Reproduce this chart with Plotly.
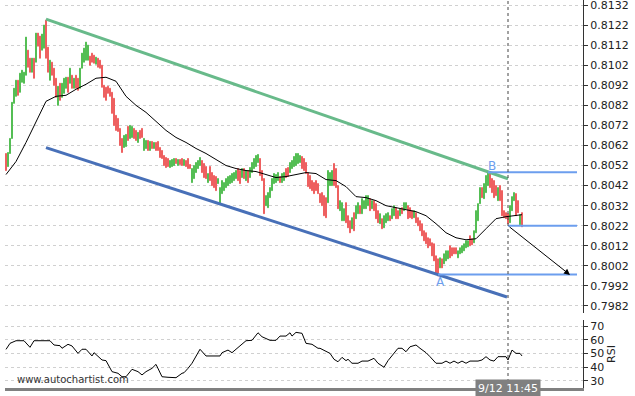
import plotly.graph_objects as go

# ---------------- data ----------------
open_ = [
0.80580,0.80515,0.80580,0.80655,0.80830,0.80865,0.80945,0.80885,0.80935,0.80930,
0.80970,0.81095,0.81055,0.80985,0.81055,0.81035,0.81180,0.81165,0.81095,0.81105,
0.81245,0.81110,0.80945,0.81035,0.81005,0.80955,0.80820,0.80930,0.80860,0.80880,
0.80905,0.80960,0.80930,0.80970,0.80905,0.80970,0.80955,0.80905,0.81005,0.81035,
0.81045,0.81045,0.81065,0.81080,0.81070,0.81025,0.81055,0.81045,0.81020,0.80920,
0.80910,0.80915,0.80905,0.80885,0.80855,0.80770,0.80755,0.80705,0.80655,0.80610,
0.80615,0.80715,0.80655,0.80660,0.80705,0.80695,0.80635,0.80695,0.80705,0.80595,
0.80605,0.80645,0.80595,0.80640,0.80605,0.80635,0.80640,0.80610,0.80595,0.80570,
0.80560,0.80555,0.80510,0.80515,0.80520,0.80555,0.80520,0.80550,0.80555,0.80520,
0.80545,0.80555,0.80525,0.80435,0.80455,0.80485,0.80505,0.80520,0.80545,0.80530,
0.80515,0.80435,0.80515,0.80485,0.80470,0.80465,0.80430,0.80330,0.80380,0.80395,
0.80410,0.80420,0.80430,0.80435,0.80445,0.80455,0.80505,0.80495,0.80460,0.80505,
0.80445,0.80495,0.80460,0.80485,0.80505,0.80515,0.80535,0.80555,0.80495,0.80455,
0.80320,0.80310,0.80360,0.80395,0.80430,0.80435,0.80445,0.80465,0.80435,0.80445,
0.80505,0.80510,0.80485,0.80505,0.80515,0.80520,0.80530,0.80535,0.80565,0.80555,
0.80535,0.80485,0.80470,0.80445,0.80435,0.80445,0.80430,0.80380,0.80385,0.80370,
0.80360,0.80335,0.80420,0.80420,0.80530,0.80505,0.80420,0.80295,0.80245,0.80245,
0.80335,0.80270,0.80245,0.80205,0.80285,0.80255,0.80280,0.80320,0.80280,0.80305,
0.80305,0.80320,0.80355,0.80305,0.80345,0.80330,0.80295,0.80230,0.80255,0.80210,
0.80235,0.80245,0.80270,0.80255,0.80270,0.80310,0.80295,0.80270,0.80310,0.80295,
0.80305,0.80320,0.80310,0.80295,0.80260,0.80285,0.80260,0.80245,0.80230,0.80195,
0.80185,0.80160,0.80155,0.80135,0.80130,0.80070,0.80055,0.80010,0.80055,0.80030,
0.80045,0.80055,0.80120,0.80110,0.80110,0.80110,0.80060,0.80080,0.80085,0.80095,
0.80110,0.80115,0.80170,0.80155,0.80135,0.80185,0.80245,0.80330,0.80410,0.80355,
0.80385,0.80420,0.80480,0.80455,0.80445,0.80420,0.80345,0.80420,0.80395,0.80295,
0.80285,0.80280,0.80235,0.80295,0.80345,0.80380,0.80345,0.80225,0.80285]

close_ = [
0.80495,0.80585,0.80655,0.80835,0.80905,0.80945,0.80870,0.80980,0.80995,0.80985,
0.81160,0.81010,0.80985,0.81055,0.80955,0.81180,0.81115,0.81055,0.81175,0.81220,
0.81055,0.80985,0.81045,0.80970,0.80920,0.80860,0.80915,0.80845,0.80930,0.80955,
0.80960,0.80885,0.81005,0.80905,0.80955,0.80905,0.80895,0.81005,0.81080,0.81105,
0.81135,0.81120,0.81020,0.81035,0.81030,0.81060,0.81010,0.81005,0.80910,0.80860,
0.80845,0.80880,0.80865,0.80780,0.80720,0.80695,0.80690,0.80620,0.80585,0.80670,
0.80675,0.80645,0.80720,0.80715,0.80655,0.80645,0.80685,0.80655,0.80660,0.80655,
0.80645,0.80595,0.80640,0.80605,0.80635,0.80595,0.80595,0.80560,0.80555,0.80520,
0.80510,0.80515,0.80545,0.80550,0.80555,0.80530,0.80550,0.80525,0.80520,0.80550,
0.80515,0.80505,0.80505,0.80505,0.80520,0.80535,0.80545,0.80560,0.80485,0.80460,
0.80455,0.80480,0.80445,0.80420,0.80410,0.80395,0.80455,0.80410,0.80445,0.80435,
0.80455,0.80465,0.80470,0.80480,0.80485,0.80495,0.80445,0.80430,0.80505,0.80455,
0.80495,0.80435,0.80510,0.80535,0.80555,0.80570,0.80575,0.80470,0.80445,0.80280,
0.80370,0.80385,0.80410,0.80455,0.80480,0.80475,0.80485,0.80435,0.80480,0.80485,
0.80460,0.80465,0.80535,0.80545,0.80565,0.80580,0.80580,0.80570,0.80505,0.80495,
0.80480,0.80415,0.80405,0.80395,0.80380,0.80395,0.80380,0.80335,0.80320,0.80270,
0.80260,0.80495,0.80485,0.80495,0.80420,0.80410,0.80305,0.80345,0.80335,0.80305,
0.80235,0.80210,0.80185,0.80260,0.80195,0.80320,0.80335,0.80280,0.80355,0.80345,
0.80370,0.80370,0.80295,0.80345,0.80295,0.80255,0.80235,0.80280,0.80205,0.80270,
0.80280,0.80285,0.80245,0.80305,0.80320,0.80255,0.80255,0.80305,0.80280,0.80335,
0.80335,0.80255,0.80260,0.80255,0.80295,0.80235,0.80220,0.80195,0.80170,0.80145,
0.80130,0.80110,0.80120,0.80070,0.80045,0.79985,0.79970,0.80060,0.80010,0.80080,
0.80095,0.80095,0.80060,0.80070,0.80080,0.80080,0.80095,0.80110,0.80120,0.80130,
0.80145,0.80145,0.80120,0.80125,0.80195,0.80295,0.80330,0.80410,0.80360,0.80430,
0.80470,0.80485,0.80410,0.80385,0.80360,0.80370,0.80410,0.80345,0.80270,0.80260,
0.80255,0.80230,0.80320,0.80365,0.80385,0.80270,0.80285,0.80275,0.80215]

bar_idx = list(range(len(open_)))

ma_idx = [0,5,10,15,20,25,30,35,40,45,50,55,60,65,70,75,80,85,90,95,100,105,110,
          115,120,125,130,135,140,145,150,155,160,165,170,175,180,185,190,195,200,
          205,210,215,220,225,230,235,240,245,250,255,258]
ma_val = [0.80475,0.80540,0.80635,0.80740,0.80840,0.80865,0.80870,0.80900,0.80925,0.80955,
          0.80960,0.80940,0.80865,0.80820,0.80785,0.80740,0.80695,0.80660,0.80635,0.80605,
          0.80580,0.80550,0.80520,0.80505,0.80495,0.80490,0.80475,0.80460,0.80465,0.80475,
          0.80485,0.80480,0.80450,0.80445,0.80415,0.80365,0.80360,0.80345,0.80320,0.80310,
          0.80300,0.80290,0.80270,0.80230,0.80185,0.80160,0.80150,0.80155,0.80205,0.80255,
          0.80265,0.80270,0.80275]

rsi_idx = [0,2,5,9,12,14,22,24,27,28,31,33,36,38,40,43,44,46,48,50,53,56,58,60,63,66,68,70,
           73,75,78,81,85,88,89,91,93,97,100,107,108,111,113,115,120,123,126,128,132,135,
           137,140,142,143,145,148,150,153,156,157,160,162,164,166,168,170,171,173,176,178,
           181,184,186,189,191,194,196,198,200,202,205,207,210,212,215,218,220,222,224,226,
           228,230,232,236,238,240,242,244,246,250,251,253,255,257,258]
rsi_val = [53,57.4,59.3,59.3,54.5,59.3,59.3,56.2,55.7,53.8,56.7,55.5,50.1,53.1,53.1,48.2,
           50.6,47.7,45.3,44.8,36.8,35.6,33.1,33.1,38.5,36.8,34.4,36.8,39.2,42.1,33.1,32.7,
           32.4,35.6,36,39.2,42.9,53.1,48.2,48.2,50.6,52.5,50.6,53.1,59.3,59.6,65.1,62.2,
           59.6,59.6,62.7,62.7,65.1,62.7,65.4,64.7,57.4,56.7,53.8,53.8,51.3,50.1,45.8,44,
           47.2,44.8,45.8,42.9,42.9,44.5,44.5,46.5,42.9,40,44.8,50.6,53.8,53.8,51.3,54.9,
           56.2,53.8,50.6,47.7,42.9,42.9,44.5,42.9,44.5,42.9,44.5,42.9,44.5,44.5,45.3,47.7,
           45.3,44.5,47.7,47.7,45.3,52.5,50.1,50.1,48.2]

# pattern (channel + levels)
upper_x = [20, 251]
upper_y = [0.81250, 0.80454]
lower_x = [20, 250.5]
lower_y = [0.80609, 0.79865]
level_b_x = [241, 285.5]
level_b = 0.80487
level_now_x = [251, 285.5]
level_now = 0.80220
level_a_x = [216, 285.5]
level_a = 0.79977
arrow_from = (251, 0.80220)
arrow_to = (282, 0.79975)
point_a = (217, 0.79940)
point_b = (243, 0.80520)
cursor_idx = 251
cursor_label = "9/12 11:45"

price_ticks = [round(0.7982 + 0.001 * k, 4) for k in range(16)]
rsi_ticks = [30, 40, 50, 60, 70]

# ---------------- figure ----------------
high_ = [max(o, c) for o, c in zip(open_, close_)]
low_ = [min(o, c) for o, c in zip(open_, close_)]

GREEN = "rgb(84,190,84)"
RED = "rgb(238,96,96)"
LBLUE = "rgb(108,158,238)"

fig = go.Figure()
fig.add_trace(go.Candlestick(
    x=bar_idx, open=open_, high=high_, low=low_, close=close_,
    increasing=dict(line=dict(color=GREEN, width=1), fillcolor=GREEN),
    decreasing=dict(line=dict(color=RED, width=1), fillcolor=RED),
    whiskerwidth=0, showlegend=False, hoverinfo="skip",
    xaxis="x", yaxis="y"))
fig.add_trace(go.Scatter(x=ma_idx, y=ma_val, mode="lines",
                         line=dict(color="black", width=1), showlegend=False,
                         xaxis="x", yaxis="y"))
fig.add_trace(go.Scatter(x=upper_x, y=upper_y, mode="lines",
                         line=dict(color="rgb(104,186,138)", width=3), showlegend=False))
fig.add_trace(go.Scatter(x=lower_x, y=lower_y, mode="lines",
                         line=dict(color="rgb(72,112,184)", width=3), showlegend=False))
for xs, lv in [(level_b_x, level_b), (level_now_x, level_now), (level_a_x, level_a)]:
    fig.add_trace(go.Scatter(x=xs, y=[lv, lv], mode="lines",
                             line=dict(color=LBLUE, width=2), showlegend=False))
fig.add_trace(go.Scatter(x=rsi_idx, y=rsi_val, mode="lines",
                         line=dict(color="black", width=1), showlegend=False,
                         xaxis="x2", yaxis="y2"))

fig.add_annotation(x=arrow_to[0], y=arrow_to[1], ax=arrow_from[0], ay=arrow_from[1],
                   xref="x", yref="y", axref="x", ayref="y", text="",
                   showarrow=True, arrowhead=2, arrowwidth=1, arrowsize=1.2,
                   arrowcolor="black")
fig.add_annotation(x=point_a[0], y=point_a[1], xref="x", yref="y", text="A",
                   showarrow=False, font=dict(color=LBLUE, size=12))
fig.add_annotation(x=point_b[0], y=point_b[1], xref="x", yref="y", text="B",
                   showarrow=False, font=dict(color=LBLUE, size=12))
fig.add_annotation(x=cursor_idx, y=0, xref="x", yref="paper", text=cursor_label,
                   showarrow=False, yanchor="middle", yshift=0,
                   bgcolor="#808080", borderpad=2,
                   font=dict(color="white", size=11))
fig.add_annotation(x=0.0173, y=0.023, xref="paper", yref="paper",
                   text="www.autochartist.com", showarrow=False,
                   xanchor="left", yanchor="middle",
                   font=dict(color="#333", size=10))
fig.add_shape(type="line", x0=cursor_idx, x1=cursor_idx, y0=0, y1=1,
              xref="x", yref="paper", line=dict(color="#444", width=1, dash="3px,3px"),
              layer="above")

fig.update_layout(
    width=635, height=396,
    margin=dict(l=5, r=52, t=0, b=8),
    paper_bgcolor="white", plot_bgcolor="white",
    font=dict(family="DejaVu Sans", size=11, color="#222"),
    showlegend=False,
    xaxis=dict(domain=[0, 1], range=[-0.5, 288.5], showticklabels=False,
               showgrid=False, zeroline=False, ticks="", rangeslider=dict(visible=False),
               anchor="y"),
    yaxis=dict(domain=[0.1933, 1], range=[0.79785, 0.81345], side="right",
               tickvals=price_ticks, tickformat=".4f", ticks="outside", ticklen=4,
               tickcolor="#333", showline=True, linecolor="#333", linewidth=1,
               ticklabeloverflow="allow",
               showgrid=True, gridcolor="#d0d0d0", griddash="dot", gridwidth=1,
               zeroline=False, anchor="x"),
    xaxis2=dict(domain=[0, 1], range=[-0.5, 288.5], showticklabels=False,
                showgrid=False, zeroline=False, ticks="", showline=True,
                linecolor="#808080", linewidth=3, anchor="y2", matches="x"),
    yaxis2=dict(domain=[0, 0.1753], range=[24.9, 74.4], side="right",
                tickvals=rsi_ticks, ticks="outside", ticklen=4, tickcolor="#333",
                showline=True, linecolor="#333", linewidth=1,
                showgrid=True, gridcolor="#d0d0d0", griddash="dot", gridwidth=1,
                zeroline=False, anchor="x2",
                title=dict(text="RSI", standoff=4, font=dict(size=11))),
)

fig.write_html("out.html")
